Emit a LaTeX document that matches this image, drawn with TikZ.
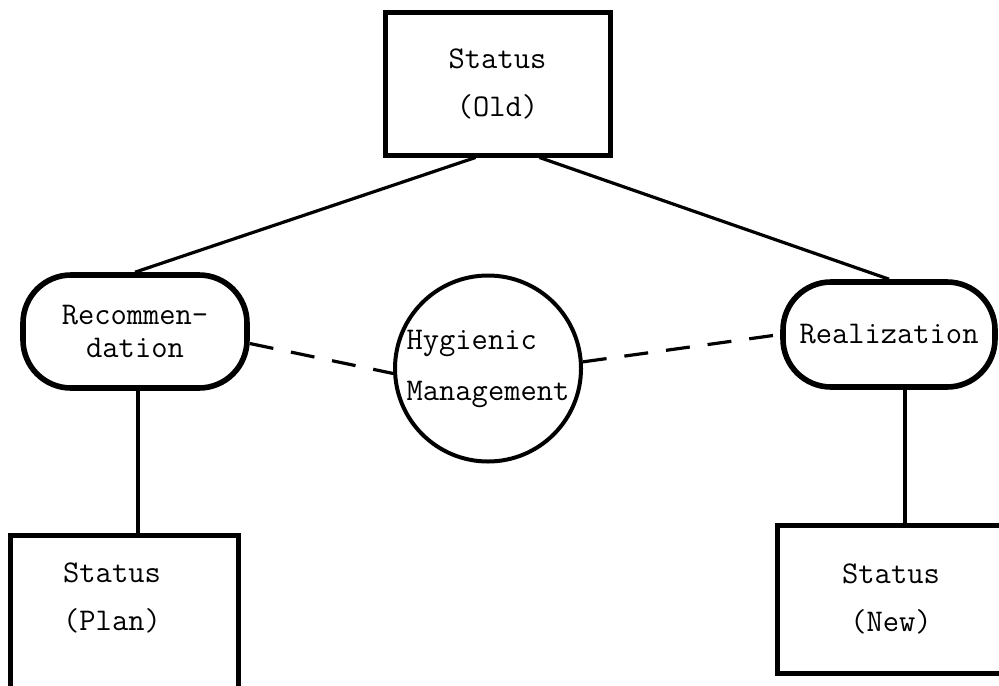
\documentclass[tikz,border=0pt]{standalone}
\usepackage{fontspec}
\begin{document}
\begin{tikzpicture}[x=0.5pt,y=-0.5pt,
  statusbox/.style={draw,line width=2.5pt,minimum width=112.5pt,minimum height=71.5pt,align=center,
    font=\ttfamily\fontsize{15.8pt}{24pt}\selectfont},
  stagebox/.style={draw,line width=2.8pt,rounded corners=24pt,align=center,
    font=\ttfamily\fontsize{15.8pt}{16.5pt}\selectfont},
  link/.style={line width=1.6pt}]
  \clip (0,0) rectangle (999,685);
  % status boxes and stages
  \node[statusbox] (old) at (497.5,83.5) {Status\\(Old)};
  \node[stagebox,minimum width=112pt,minimum height=56.5pt] (rec) at (135,331.5) {Recommen-\\dation};
  \node[stagebox,minimum width=106pt,minimum height=52.5pt] (real) at (889,334.5) {Realization};
  \node[circle,draw,line width=2pt,minimum size=93pt,inner sep=0pt,align=left,
    font=\ttfamily\fontsize{15.8pt}{25.5pt}\selectfont] (hyg) at (488,368.5) {Hygienic\\Management};
  \node[statusbox,minimum width=114pt,minimum height=82pt] (plan) at (124,617) {};
  \node[align=left,font=\ttfamily\fontsize{15.8pt}{24pt}\selectfont] (plantext) at (112,598) {Status\\(Plan)};
  \node[statusbox,minimum width=114pt,minimum height=74pt] (new) at (891,599) {Status\\(New)};
  % connectors
  \draw[link] ([xshift=-11pt]old.south) -- (rec.north);
  \draw[link] ([xshift=21pt]old.south) -- (real.north);
  \draw[link] ([xshift=1.5pt]rec.south) -- ([xshift=1.5pt]rec.south |- plan.north);
  \draw[link] ([xshift=8pt]real.south) -- ([xshift=8pt]real.south |- new.north);
  \draw[link,dash pattern=on 12pt off 9pt] ([yshift=-6pt]rec.east) -- (hyg.183);
  \draw[link,dash pattern=on 12pt off 9pt] (hyg.4) -- (real.west);
\end{tikzpicture}
\end{document}
